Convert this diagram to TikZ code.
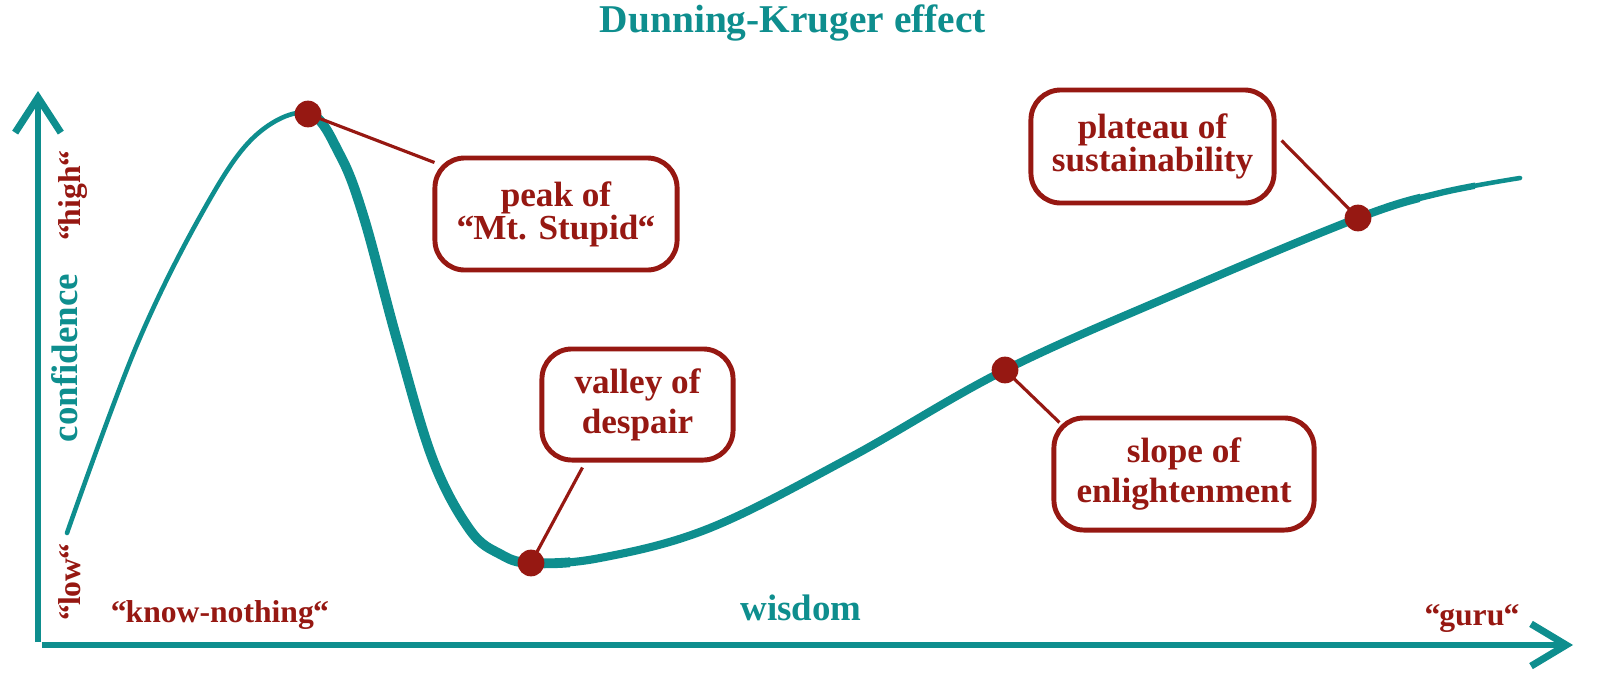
\documentclass[tikz,border=0pt]{standalone}
\usepackage{fontspec}
\setmainfont{Liberation Serif}
\usetikzlibrary{arrows.meta,calc}
\definecolor{dkteal}{RGB}{14,142,142}
\definecolor{dkred}{RGB}{150,24,18}
\newcommand\oq{“\kern-0.3pt}
\newcommand\cq{\kern-0.2pt“}
\begin{document}
\begin{tikzpicture}[x=0.01cm,y=0.01cm,
  labelbox/.style={draw=dkred, line width=1.4pt, rounded corners=8.5pt, fill=white,
    text=dkred, font=\bfseries\fontsize{10}{9.4}\selectfont, align=center, inner sep=0pt},
  reddot/.style={circle, fill=dkred, minimum size=7.6pt, inner sep=0pt},
  lead/.style={draw=dkred, line width=0.9pt},
  axisline/.style={draw=dkteal, line width=1.7pt},
  curvestroke/.style={draw=dkteal, line cap=round, line join=round},
  redlabel/.style={text=dkred, font=\bfseries\fontsize{9}{11}\selectfont},
  teallabel/.style={text=dkteal, font=\bfseries\fontsize{10.5}{12}\selectfont}]
\useasboundingbox (0,0) rectangle (1600,690);
\def\DKcurve{plot[smooth,tension=0.6] coordinates {(67,157) (136,343) (202,477) (254,553) (308,577) (340,535) (364,472) (397,350) (433,230) (470,160) (500,136) (531,127) (600,132) (710,162) (851,233) (1005,320) (1180,398) (1358,472) (1440,497) (1520,512)}}

% title
\node[anchor=base, text=dkteal, font=\bfseries\fontsize{11.2}{13}\selectfont] (title) at (793,658) {Dunning-Kruger effect};

% axes
\coordinate (yb) at (38,48);
\coordinate (yt) at (38,599);
\coordinate (xl) at (42,45);
\coordinate (xr) at (1573,45);
\draw[axisline, -{Straight Barb[length=10pt,width=13pt,line width=2pt]}] (yb) -- (yt);
\draw[axisline, -{Straight Barb[length=10pt,width=12pt,line width=2pt]}] (xl) -- (xr);

% curve
\draw[curvestroke, line width=1.3pt] \DKcurve;
\begin{scope}
  \clip (305,0) rectangle (1475,690);
  \draw[curvestroke, line width=1.8pt] \DKcurve;
\end{scope}
\begin{scope}
  \clip (310,0) rectangle (1420,690);
  \draw[curvestroke, line width=2.3pt] \DKcurve;
\end{scope}
\begin{scope}
  \clip (315,0) rectangle (570,690);
  \draw[curvestroke, line width=2.8pt] \DKcurve;
\end{scope}

% axis labels
\node[rotate=90, anchor=base, teallabel] (conf) at (78,332) {confidence};
\node[rotate=90, anchor=base, redlabel] (high) at (80,494) {\oq high\cq};
\node[rotate=90, anchor=base, redlabel] (low) at (80,108) {\oq low\cq};
\node[anchor=base, redlabel] (kn) at (220,68) {\oq know-nothing\cq};
\node[anchor=base, teallabel] (wis) at (801,70) {wisdom};
\node[anchor=base, redlabel] (guru) at (1472,65) {\oq guru\cq};

% boxes
\node[labelbox, minimum width=2.42cm, minimum height=1.12cm] (b1) at (556,476) {peak of\\\oq Mt. Stupid\cq};
\node[labelbox, minimum width=1.91cm, minimum height=1.11cm] (b2) at (637.5,285.5) {valley of\\[2pt]despair};
\node[labelbox, minimum width=2.60cm, minimum height=1.12cm] (b3) at (1184,216) {slope of\\[2pt]enlightenment};
\node[labelbox, minimum width=2.43cm, minimum height=1.13cm] (b4) at (1152.5,543.5) {plateau of\\sustainability};

% dot positions
\coordinate (p1) at (308,576);
\coordinate (p2) at (531,127);
\coordinate (p3) at (1005,320);
\coordinate (p4) at (1358,472);

% leaders
\draw[lead] (p1) -- ($(b1.north west)+(2,-7)$);
\draw[lead] (p2) -- ($(b2.south west)+(43,-5)$);
\draw[lead] (p3) -- ($(b3.north west)+(8,-7)$);
\draw[lead] (p4) -- ($(b4.east)+(5,6)$);

% dots
\node[reddot] (d1) at (p1) {};
\node[reddot] (d2) at (p2) {};
\node[reddot] (d3) at (p3) {};
\node[reddot] (d4) at (p4) {};
\end{tikzpicture}
\end{document}
